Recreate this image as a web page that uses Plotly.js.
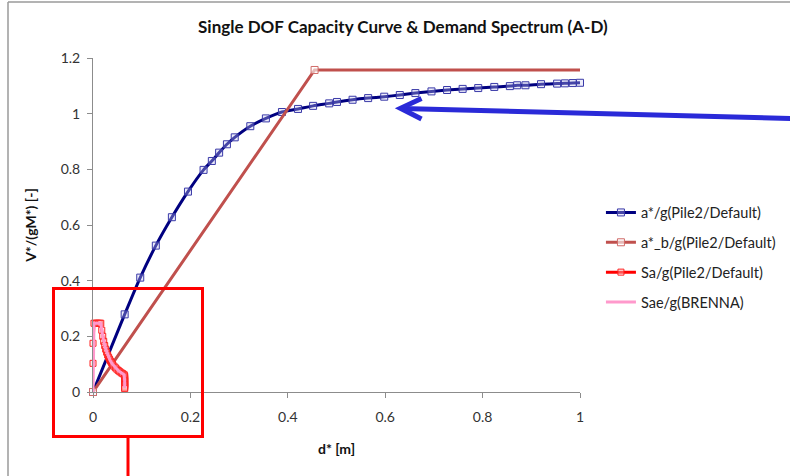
<!DOCTYPE html>
<html>
<head>
<meta charset="utf-8">
<script src="https://cdn.plot.ly/plotly-3.0.1.min.js"></script>
<style>html,body{margin:0;padding:0;background:#fff}#chart{width:790px;height:476px}</style>
</head>
<body>
<div id="chart"></div>
<script>
// Capacity curve a*/g(Pile2/Default)
var capD = [0, 0.065, 0.097, 0.129, 0.162, 0.195, 0.227, 0.244, 0.259, 0.275, 0.291, 0.323, 0.355, 0.388, 0.421, 0.452, 0.485, 0.501, 0.533, 0.565, 0.598, 0.630, 0.662, 0.695, 0.727, 0.759, 0.791, 0.824, 0.856, 0.871, 0.888, 0.920, 0.953, 0.969, 0.985, 1.0];
var capA = [0, 0.279, 0.411, 0.526, 0.628, 0.720, 0.798, 0.830, 0.860, 0.890, 0.915, 0.955, 0.983, 1.006, 1.017, 1.028, 1.037, 1.042, 1.050, 1.056, 1.061, 1.067, 1.074, 1.080, 1.085, 1.089, 1.092, 1.096, 1.099, 1.102, 1.102, 1.106, 1.108, 1.109, 1.110, 1.111];
// Bilinear a*_b/g(Pile2/Default)
var bilD = [0, 0.455, 1.0];
var bilA = [0, 1.157, 1.157];
// Demand spectrum Sa/g(Pile2/Default)
var saD = [0, 0, 0.002, 0.005, 0.008, 0.011, 0.014, 0.016, 0.018, 0.020, 0.022, 0.024, 0.026, 0.028, 0.030, 0.032, 0.034, 0.036, 0.038, 0.040, 0.043, 0.046, 0.049, 0.052, 0.055, 0.058, 0.061, 0.064, 0.065, 0.065, 0.065, 0.065, 0.065, 0.065, 0.065, 0.065, 0.065, 0.065, 0.065, 0.065, 0.065, 0.065, 0.065];
var saA = [0.103, 0.175, 0.247, 0.247, 0.247, 0.247, 0.247, 0.247, 0.222, 0.200, 0.182, 0.167, 0.154, 0.143, 0.133, 0.125, 0.118, 0.111, 0.105, 0.100, 0.093, 0.087, 0.082, 0.077, 0.073, 0.069, 0.066, 0.062, 0.058, 0.054, 0.050, 0.046, 0.042, 0.039, 0.036, 0.033, 0.030, 0.027, 0.024, 0.021, 0.018, 0.015, 0.012];
// Elastic spectrum Sae/g(BRENNA)
var saeD = [0, 0.002, 0.016, 0.020, 0.025, 0.030, 0.035, 0.040, 0.046, 0.052, 0.058, 0.064, 0.065, 0.065];
var saeA = [0, 0.247, 0.247, 0.200, 0.160, 0.133, 0.114, 0.100, 0.087, 0.077, 0.069, 0.062, 0.040, 0.014];

var seriesNames = ['a*/g(Pile2/Default)', 'a*_b/g(Pile2/Default)', 'Sa/g(Pile2/Default)', 'Sae/g(BRENNA)'];
var xTicks = [0, 0.2, 0.4, 0.6, 0.8, 1];
var yTicks = [0, 0.2, 0.4, 0.6, 0.8, 1, 1.2];

var FONT = 'Lato, "Open Sans", sans-serif';
var L = 93, T = 58, W = 487, H = 334;
function px(x) { return (x - L) / W; }
function py(y) { return (T + H - y) / H; }

var brownFill = bilD.map(function (d, i) { return i < bilD.length - 1 ? 'rgba(255,255,255,0.6)' : 'rgba(0,0,0,0)'; });
var brownEdge = bilD.map(function (d, i) { return i < bilD.length - 1 ? '#d06b68' : 'rgba(0,0,0,0)'; });

var traces = [
  {x: capD, y: capA, name: seriesNames[0], type: 'scatter', mode: 'lines+markers', legendgroup: 'a', cliponaxis: false,
   line: {color: '#000080', width: 3, shape: 'spline', smoothing: 0.6},
   marker: {symbol: 'square', size: 7, color: 'rgba(200,200,240,0.35)', line: {color: '#3a3aa8', width: 1}}},
  {x: bilD, y: bilA, name: seriesNames[1], type: 'scatter', mode: 'lines+markers', legendgroup: 'b', cliponaxis: false,
   line: {color: '#c0504d', width: 3},
   marker: {symbol: 'square', size: 7, color: brownFill, line: {color: brownEdge, width: 1}}},
  {x: saD, y: saA, name: seriesNames[2], type: 'scatter', mode: 'lines+markers', legendgroup: 'c', cliponaxis: false,
   line: {color: '#ff0000', width: 3},
   marker: {symbol: 'square', size: 6, color: 'rgba(255,210,210,0.4)', line: {color: '#ff2020', width: 1}}},
  {x: saeD, y: saeA, name: seriesNames[3], type: 'scatter', mode: 'lines', legendgroup: 'd', cliponaxis: false,
   line: {color: '#ff99cc', width: 3}}
];

var shapes = [
  // chart frame
  {type: 'line', xref: 'paper', yref: 'paper', x0: px(8), x1: px(8), y0: py(2), y1: py(490), line: {color: '#9a9a9a', width: 1.5}},
  {type: 'line', xref: 'paper', yref: 'paper', x0: px(8), x1: px(800), y0: py(2), y1: py(2), line: {color: '#9a9a9a', width: 1.5}},
  // red highlight box
  {type: 'rect', xref: 'paper', yref: 'paper', x0: px(53.5), x1: px(202.5), y0: py(288.5), y1: py(436.5), line: {color: '#ff0000', width: 3}, layer: 'above'},
  {type: 'line', xref: 'paper', yref: 'paper', x0: px(128), x1: px(128), y0: py(436.5), y1: py(490), line: {color: '#ff0000', width: 3}, layer: 'above'},
  // blue arrow
  {type: 'line', xref: 'paper', yref: 'paper', x0: px(795), x1: px(402), y0: py(118.6), y1: py(108.5), line: {color: '#2a2ad8', width: 5}, layer: 'above'},
  {type: 'path', xref: 'paper', yref: 'paper',
   path: 'M ' + px(421.5) + ' ' + py(98.5) + ' L ' + px(400.5) + ' ' + py(108.3) + ' L ' + px(421.5) + ' ' + py(119),
   line: {color: '#2a2ad8', width: 5}, layer: 'above'}
];

var layout = {
  width: 790, height: 476,
  margin: {l: L, r: 790 - L - W, t: T, b: 476 - T - H, autoexpand: false},
  paper_bgcolor: '#ffffff', plot_bgcolor: '#ffffff',
  font: {family: FONT, size: 14, color: '#333333'},
  title: {text: 'Single DOF Capacity Curve &amp; Demand Spectrum (A-D)', x: 0.51, xanchor: 'center', y: 1 - 27 / 476, yanchor: 'middle',
          font: {family: FONT, size: 17, color: '#111111', weight: 'bold'}},
  xaxis: {range: [0, 1], tickvals: xTicks, ticktext: xTicks.map(String), showgrid: false, zeroline: false, automargin: false,
          showline: true, linecolor: '#8c8c8c', linewidth: 1, ticks: 'outside', ticklen: 5, tickcolor: '#8c8c8c',
          ticklabelstandoff: 7, tickfont: {family: FONT, size: 14, color: '#333333'},
          title: {text: 'd* [m]', standoff: 20, font: {family: FONT, size: 14, color: '#111111', weight: 'bold'}}},
  yaxis: {range: [0, 1.2], tickvals: yTicks, ticktext: yTicks.map(String), showgrid: false, zeroline: false, automargin: false,
          showline: true, linecolor: '#8c8c8c', linewidth: 1, ticks: 'outside', ticklen: 5, tickcolor: '#8c8c8c',
          ticklabelstandoff: 4, tickfont: {family: FONT, size: 14, color: '#333333'},
          title: {text: 'V*/(gM*) [-]', standoff: 20, font: {family: FONT, size: 14, color: '#111111', weight: 'bold'}}},
  legend: {x: 1.043, xanchor: 'left', y: py(257.5), yanchor: 'middle', traceorder: 'grouped', tracegroupgap: 8,
           bgcolor: 'rgba(0,0,0,0)', font: {family: FONT, size: 14.5, color: '#222222'}},
  showlegend: true,
  shapes: shapes
};

Plotly.newPlot('chart', traces, layout, {displayModeBar: false, staticPlot: true});
</script>
</body>
</html>
